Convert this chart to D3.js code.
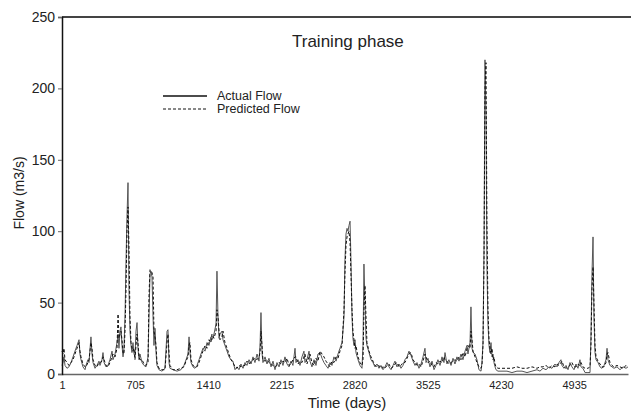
<!DOCTYPE html>
<html>
<head>
<meta charset="utf-8">
<script src="https://cdn.jsdelivr.net/npm/d3@7"></script>
<style>
  body { margin: 0; background: #fff; }
  text { font-family: "Liberation Sans", Arial, sans-serif; fill: #222; }
</style>
</head>
<body>
<div id="chart"></div>
<script>
var width = 631
var height = 412

// time axis (days) and the two flow series
const days = [1, 11, 20, 30, 49, 68, 88, 107, 126, 146, 165, 174, 184, 203, 223, 232, 251, 261, 280, 290, 300, 319, 338, 357, 367, 386, 396, 406, 425, 444, 463, 483, 492, 512, 531, 541, 550, 560, 569, 579, 589, 598, 608, 618, 627, 637, 646, 656, 666, 675, 685, 695, 704, 714, 724, 733, 743, 752, 772, 791, 810, 830, 839, 849, 858, 868, 878, 887, 897, 907, 916, 935, 964, 993, 1013, 1022, 1032, 1041, 1070, 1109, 1147, 1176, 1196, 1215, 1225, 1234, 1244, 1263, 1282, 1302, 1321, 1340, 1359, 1379, 1398, 1417, 1436, 1446, 1465, 1485, 1494, 1504, 1514, 1523, 1542, 1552, 1571, 1591, 1610, 1629, 1648, 1668, 1687, 1706, 1725, 1745, 1764, 1783, 1803, 1822, 1841, 1860, 1880, 1899, 1909, 1918, 1928, 1937, 1957, 1976, 1995, 2015, 2034, 2053, 2072, 2092, 2111, 2130, 2149, 2169, 2188, 2207, 2226, 2246, 2255, 2275, 2294, 2313, 2332, 2342, 2361, 2381, 2390, 2409, 2429, 2448, 2467, 2487, 2506, 2525, 2544, 2564, 2583, 2602, 2621, 2641, 2660, 2679, 2699, 2718, 2727, 2737, 2747, 2756, 2766, 2776, 2785, 2795, 2804, 2814, 2824, 2833, 2853, 2872, 2891, 2901, 2910, 2920, 2930, 2939, 2959, 2978, 2997, 3016, 3036, 3055, 3074, 3094, 3113, 3132, 3151, 3171, 3190, 3209, 3228, 3248, 3267, 3286, 3305, 3325, 3344, 3363, 3383, 3402, 3421, 3440, 3460, 3479, 3498, 3508, 3527, 3546, 3566, 3585, 3604, 3623, 3643, 3662, 3681, 3691, 3710, 3729, 3749, 3768, 3787, 3806, 3826, 3845, 3864, 3884, 3903, 3912, 3932, 3941, 3951, 3961, 3980, 3999, 4018, 4038, 4047, 4057, 4067, 4076, 4086, 4095, 4105, 4115, 4124, 4134, 4144, 4153, 4163, 4173, 4182, 4201, 4240, 4288, 4336, 4384, 4433, 4481, 4529, 4577, 4606, 4635, 4664, 4693, 4722, 4751, 4770, 4789, 4808, 4818, 4837, 4857, 4876, 4895, 4914, 4934, 4953, 4972, 4991, 5001, 5020, 5040, 5068, 5088, 5097, 5107, 5117, 5126, 5136, 5146, 5165, 5184, 5203, 5223, 5242, 5252, 5261, 5280, 5300, 5319, 5348, 5377, 5406, 5435, 5454];

const actualFlow = [6, 8, 12, 6, 4, 5, 8, 12, 16, 20, 24, 14, 10, 5, 3, 6, 10, 8, 26, 14, 8, 4, 6, 9, 6, 10, 15, 8, 5, 6, 10, 16, 10, 14, 22, 28, 18, 30, 33, 20, 12, 18, 40, 80, 110, 134, 60, 30, 20, 15, 22, 14, 12, 30, 36, 18, 10, 14, 8, 6, 5, 12, 40, 70, 72, 68, 40, 20, 32, 15, 6, 3, 2, 4, 30, 31, 8, 4, 3, 2, 3, 6, 10, 14, 26, 15, 8, 5, 4, 6, 10, 14, 18, 16, 22, 20, 26, 24, 28, 35, 72, 40, 25, 28, 30, 24, 20, 16, 12, 10, 9, 3, 5, 3, 7, 4, 8, 6, 10, 7, 12, 8, 14, 9, 20, 43, 15, 8, 12, 7, 11, 5, 9, 3, 8, 5, 10, 6, 12, 7, 5, 9, 6, 18, 8, 10, 6, 12, 16, 8, 10, 16, 9, 5, 10, 6, 14, 15, 11, 8, 6, 4, 8, 6, 12, 9, 14, 18, 22, 40, 80, 98, 102, 100, 104, 107, 80, 40, 25, 20, 24, 15, 10, 6, 4, 20, 77, 50, 25, 20, 15, 10, 8, 5, 7, 4, 6, 3, 5, 8, 5, 3, 6, 9, 5, 7, 4, 6, 10, 12, 16, 13, 9, 6, 8, 4, 7, 12, 18, 8, 11, 5, 9, 3, 6, 10, 6, 12, 8, 15, 7, 10, 6, 11, 7, 12, 9, 14, 10, 16, 20, 14, 22, 47, 18, 15, 14, 10, 3, 2, 8, 22, 90, 220, 180, 75, 35, 20, 15, 22, 12, 14, 8, 5, 3, 2, 2, 2, 1, 2, 2, 1, 2, 3, 2, 4, 3, 5, 4, 7, 5, 8, 10, 6, 4, 6, 3, 8, 5, 3, 7, 4, 10, 5, 4, 1, 1, 1, 25, 70, 96, 40, 15, 10, 8, 5, 4, 6, 10, 18, 10, 6, 5, 4, 5, 3, 5, 4, 5];

const predictedFlow = [16, 14, 18, 10, 8, 6, 8, 10, 14, 18, 22, 16, 12, 7, 5, 5, 8, 10, 22, 18, 10, 6, 5, 8, 8, 9, 12, 10, 6, 5, 8, 12, 14, 12, 18, 42, 25, 28, 30, 24, 15, 14, 30, 60, 100, 117, 90, 40, 22, 18, 16, 18, 10, 20, 28, 22, 12, 10, 10, 7, 6, 8, 55, 73, 72, 71, 68, 30, 26, 20, 8, 4, 3, 3, 22, 28, 15, 6, 3, 3, 4, 5, 9, 12, 20, 22, 10, 6, 5, 5, 8, 12, 16, 20, 18, 24, 22, 28, 25, 30, 45, 40, 30, 24, 26, 30, 22, 18, 14, 10, 8, 5, 4, 6, 5, 6, 6, 9, 7, 9, 10, 11, 10, 12, 15, 30, 20, 10, 9, 10, 8, 7, 6, 5, 6, 8, 7, 9, 8, 11, 6, 7, 10, 12, 12, 7, 9, 8, 12, 14, 7, 12, 14, 8, 6, 11, 9, 16, 14, 12, 9, 7, 5, 9, 8, 12, 11, 16, 20, 45, 70, 90, 96, 98, 100, 92, 70, 45, 30, 24, 18, 20, 12, 8, 6, 10, 45, 62, 40, 22, 16, 12, 9, 6, 5, 6, 4, 5, 4, 6, 7, 4, 5, 7, 8, 5, 6, 8, 8, 11, 14, 15, 10, 8, 6, 7, 5, 9, 14, 12, 8, 9, 6, 5, 8, 7, 9, 8, 12, 10, 9, 7, 8, 9, 10, 9, 12, 10, 15, 12, 18, 20, 18, 30, 24, 16, 12, 8, 5, 4, 6, 20, 80, 200, 218, 106, 45, 24, 18, 14, 18, 10, 12, 7, 5, 4, 4, 4, 4, 5, 4, 4, 5, 4, 5, 5, 6, 4, 6, 5, 7, 6, 8, 9, 5, 4, 5, 6, 8, 5, 5, 7, 6, 8, 5, 4, 4, 5, 20, 60, 75, 50, 20, 12, 9, 7, 5, 5, 8, 14, 15, 8, 6, 5, 6, 5, 4, 6, 5];

const tickDays = [1, 705, 1410, 2115, 2820, 3525, 4230, 4935];
const tickLabels = ["1", "705", "1410", "2215", "2820", "3525", "4230", "4935"];
const flowTicks = [0, 50, 100, 150, 200, 250];

const seriesNames = ["Actual Flow", "Predicted Flow"];

var svg = d3.select("#chart").append("svg")
    .attr("width", width)
    .attr("height", height)

const plotLeft = 62, plotRight = 628, plotTop = 17, plotBottom = 374;

const xScale = d3.scaleLinear()
    .domain([1, 5454])
    .range([plotLeft, plotRight]);

const yScale = d3.scaleLinear()
    .domain([0, 250])
    .range([plotBottom, plotTop]);

const actualData = days.map((d, i) => ({day: d, flow: actualFlow[i]}));
const predictedData = days.map((d, i) => ({day: d, flow: predictedFlow[i]}));

const line = d3.line()
    .defined(d => d.flow != null)
    .x(d => xScale(d.day))
    .y(d => yScale(d.flow));

// frame top line
svg.append("line")
    .attr("x1", plotLeft).attr("x2", width)
    .attr("y1", plotTop).attr("y2", plotTop)
    .attr("stroke", "#444")
    .attr("stroke-width", 2);

// series
svg.append("path")
    .datum(actualData)
    .attr("d", line)
    .attr("fill", "none")
    .attr("stroke", "#555")
    .attr("stroke-width", 1);

svg.append("path")
    .datum(predictedData)
    .attr("d", line)
    .attr("fill", "none")
    .attr("stroke", "#111")
    .attr("stroke-width", 1)
    .attr("stroke-dasharray", "3,2");

// axes
const xAxis = d3.axisBottom(xScale)
    .tickValues(tickDays)
    .tickFormat((d, i) => tickLabels[i])
    .tickSize(0)
    .tickPadding(7);

const gx = svg.append("g")
    .attr("transform", `translate(0, ${plotBottom})`)
    .call(xAxis);
gx.select(".domain").attr("stroke", "#666").attr("stroke-width", 1.5);
gx.selectAll("text").attr("font-size", 11).style("font-family", "Liberation Sans, Arial, sans-serif").attr("fill", "#222");

const yAxis = d3.axisLeft(yScale)
    .tickValues(flowTicks)
    .tickSize(4)
    .tickPadding(3);

const gy = svg.append("g")
    .attr("transform", `translate(${plotLeft}, 0)`)
    .call(yAxis);
gy.select(".domain").attr("stroke", "#111").attr("stroke-width", 1.5);
gy.selectAll(".tick line").attr("stroke", "#666");
gy.selectAll("text").attr("font-size", 14).style("font-family", "Liberation Sans, Arial, sans-serif").attr("fill", "#333");

// titles
svg.append("text")
    .attr("x", 292).attr("y", 47)
    .attr("font-size", 17)
    .text("Training phase");

svg.append("text")
    .attr("x", 347).attr("y", 408)
    .attr("text-anchor", "middle")
    .attr("font-size", 15)
    .text("Time (days)");

svg.append("text")
    .attr("transform", "translate(24, 193) rotate(-90)")
    .attr("text-anchor", "middle")
    .attr("font-size", 14)
    .text("Flow (m3/s)");

// legend
const legend = svg.append("g");
seriesNames.forEach((name, i) => {
    const y = 96 + i * 13;
    legend.append("line")
        .attr("x1", 163).attr("x2", 207)
        .attr("y1", y).attr("y2", y)
        .attr("stroke", "#111")
        .attr("stroke-width", i == 0 ? 1.5 : 1)
        .attr("stroke-dasharray", i == 0 ? null : "3,2");
    legend.append("text")
        .attr("x", 217).attr("y", y + 4)
        .attr("font-size", 12.5)
        .text(name);
});
</script>
</body>
</html>
